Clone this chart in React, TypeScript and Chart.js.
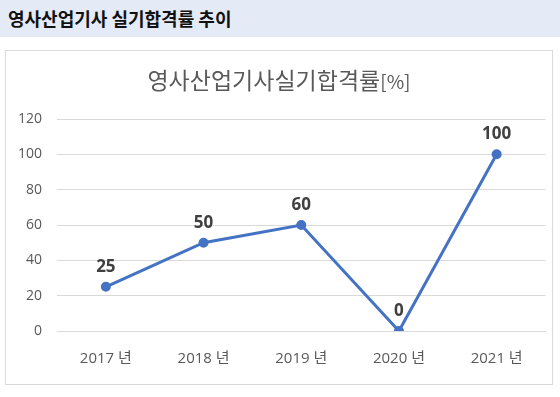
import React, { useEffect, useRef } from "react";
import { Chart, registerables } from "chart.js";

Chart.register(...registerables);

const pageTitle = "영사산업기사 실기합격률 추이";
const chartTitle = "영사산업기사실기합격률";
const chartTitleUnit = "[%]";
const categories = ["2017 년", "2018 년", "2019 년", "2020 년", "2021 년"];
const passRates = [25, 50, 60, 0, 100];
const yMin = 0;
const yMax = 120;
const yStep = 20;

const FONT = "'Noto Sans CJK KR', 'Noto Sans', sans-serif";
const NUMFONT = "'Open Sans', 'Noto Sans CJK KR', sans-serif";

const dataLabelPlugin = {
  id: "dataLabels",
  afterDatasetsDraw(chart: any) {
    const ctx = chart.ctx;
    const meta = chart.getDatasetMeta(0);
    const data = chart.data.datasets[0].data;
    ctx.save();
    ctx.font = `bold 17px ${NUMFONT}`;
    ctx.fillStyle = "#404040";
    ctx.textAlign = "center";
    ctx.textBaseline = "middle";
    meta.data.forEach((pt: any, i: number) => {
      ctx.fillText(String(data[i]), pt.x, pt.y - 20);
    });
    ctx.restore();
  },
};

export default function App() {
  const ref = useRef<HTMLCanvasElement>(null);
  useEffect(() => {
    document.body.style.margin = "0";
    const chart = new Chart(ref.current!, {
      type: "line",
      data: {
        labels: categories,
        datasets: [
          {
            data: passRates,
            borderColor: "#4472c4",
            backgroundColor: "#4472c4",
            borderWidth: 3,
            pointRadius: 3.5,
            pointHoverRadius: 3.5,
            tension: 0,
          },
        ],
      },
      options: {
        animation: false,
        responsive: false,
        maintainAspectRatio: false,
        layout: { padding: { top: 68, right: 6, bottom: 8, left: 0 } },
        plugins: {
          legend: { display: false },
          tooltip: { enabled: false },
          title: { display: false },
        },
        scales: {
          x: {
            offset: true,
            grid: { display: false, drawTicks: false },
            border: { display: true, color: "#d9d9d9", width: 1 },
            ticks: { color: "#595959", font: { family: NUMFONT, size: 15 }, padding: 19 },
            afterFit: (s: any) => {
              s.height = 45;
            },
          },
          y: {
            min: yMin,
            max: yMax,
            ticks: { stepSize: yStep, color: "#595959", font: { family: NUMFONT, size: 14 }, padding: 15 },
            grid: { color: "#d9d9d9", drawTicks: false },
            border: { display: false },
            afterFit: (s: any) => {
              s.width = 51;
            },
          },
        },
      },
      plugins: [dataLabelPlugin],
    });
    return () => chart.destroy();
  }, []);

  return (
    <div style={{ position: "absolute", left: 0, top: 0, width: 560, height: 397, background: "#fff", fontFamily: FONT }}>
      <div
        style={{
          position: "absolute",
          left: 0,
          top: 0,
          width: 560,
          height: 37,
          background: "#e4ebf7",
          color: "#111",
          fontWeight: "bold",
          fontSize: 18,
          lineHeight: "37px",
          paddingLeft: 8,
          boxSizing: "border-box",
          whiteSpace: "nowrap",
        }}
      >
        {pageTitle}
      </div>
      <div
        style={{
          position: "absolute",
          left: 5,
          top: 50,
          width: 546,
          height: 333,
          border: "1px solid #d9d9d9",
        }}
      >
        <div
          style={{
            position: "absolute",
            left: 0,
            top: 12,
            width: 546,
            textAlign: "center",
            color: "#595959",
            fontSize: 23,
            lineHeight: "32px",
            whiteSpace: "nowrap",
          }}
        >
          {chartTitle}
          <span style={{ fontSize: 19 }}>{chartTitleUnit}</span>
        </div>
        <canvas ref={ref} width={546} height={333} style={{ display: "block" }} />
      </div>
    </div>
  );
}
